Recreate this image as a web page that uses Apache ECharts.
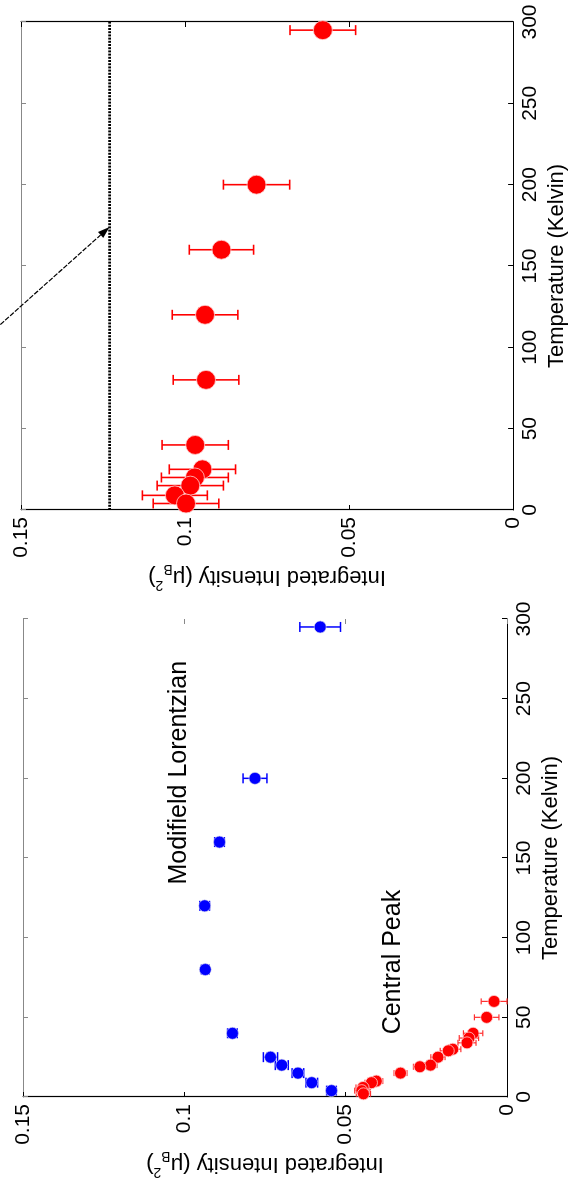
<!DOCTYPE html>
<html><head><meta charset="utf-8">
<script src="https://cdn.jsdelivr.net/npm/echarts@6/dist/echarts.min.js"></script>
<style>
html,body{margin:0;padding:0;background:#fff;overflow:hidden;width:573px;height:1194px;}
#chart{position:absolute;left:0;top:0;width:1194px;height:573px;transform-origin:0 0;transform:translate(0,1194px) rotate(-90deg);}
</style></head><body><div id="chart"></div>
<script>
// ---- Left panel (lower on page): fitted components ----
const tempML = [295, 200, 160, 120, 80, 40, 25, 20, 15, 9, 4];
const intML  = [0.0579, 0.0781, 0.0891, 0.0937, 0.0935, 0.0851, 0.0733, 0.0698, 0.0648, 0.0605, 0.0544];
const errML  = [0.0063, 0.0037, 0.0015, 0.0015, 0.0012, 0.0015, 0.0022, 0.0020, 0.0018, 0.0018, 0.0015];
const tempCP = [60, 50, 40, 37, 34, 30, 29, 25, 20, 19, 15, 10, 9, 6, 4, 2];
const intCP  = [0.0040, 0.0063, 0.0105, 0.0118, 0.0124, 0.0168, 0.0182, 0.0214, 0.0237, 0.0270, 0.0330, 0.0405, 0.0420, 0.0446, 0.0450, 0.0445];
const errCP  = [0.0040, 0.0038, 0.0030, 0.0030, 0.0028, 0.0025, 0.0025, 0.0022, 0.0020, 0.0020, 0.0020, 0.0020, 0.0020, 0.0022, 0.0022, 0.0022];
// ---- Right panel (upper on page): total intensity ----
const tempTot = [295, 200, 160, 120, 80, 40, 25, 20, 15, 9, 4];
const intTot  = [0.0580, 0.0782, 0.0889, 0.0939, 0.0936, 0.0969, 0.0947, 0.0970, 0.0984, 0.1031, 0.0997];
const errTot  = [0.0100, 0.0101, 0.0098, 0.0100, 0.0100, 0.0101, 0.0101, 0.0102, 0.0101, 0.0099, 0.0100];
const refLevel = 0.123;
// annotations
const labelML = {text: 'Modifield Lorentzian', at: [133, 0.1016]};
const labelCP = {text: 'Central Peak', at: [39, 0.0353]};
const arrowFrom = [114, 0.1563];
const arrowTo = [174, refLevel];
// axes
const tempRange = [0, 300, 50];
const intRange = [0, 0.15, 0.05];
const xTitle = 'Temperature (Kelvin)';
const yTitle = '{t|Integrated Intensity (μ}{s|B}{p|2}{t|)}';

const FONT = "'Liberation Sans', Arial, Helvetica, sans-serif";
const chart = echarts.init(document.getElementById('chart'), null, {renderer: 'canvas'});

function xAx(grid, pos, lineColor, showLine) {
  const main = pos === 'bottom';
  return {
    type: 'value', gridIndex: grid, position: pos, min: tempRange[0], max: tempRange[1], interval: tempRange[2],
    axisLine: {show: showLine, onZero: false, lineStyle: {color: lineColor, width: 1.2}},
    axisTick: {show: true, inside: true, length: 5, lineStyle: {color: main ? '#000' : lineColor, width: 1}},
    axisLabel: {show: main, margin: 7, fontSize: 21, color: '#000', fontFamily: FONT},
    splitLine: {show: false},
    name: main ? xTitle : '', nameLocation: 'middle', nameGap: 31,
    nameTextStyle: {fontSize: 22, color: '#000', fontFamily: FONT}
  };
}
function yAx(grid, pos, lineColor, showLine, tickColor) {
  const main = pos === 'left';
  return {
    type: 'value', gridIndex: grid, position: pos, min: intRange[0], max: intRange[1], interval: intRange[2],
    axisLine: {show: showLine, onZero: false, lineStyle: {color: lineColor, width: 1.2}},
    axisTick: {show: true, inside: true, length: 5, lineStyle: {color: tickColor, width: 1}},
    axisLabel: {show: main, margin: 7, fontSize: 21, color: '#000', fontFamily: FONT},
    splitLine: {show: false},
    name: main ? yTitle : '', nameLocation: 'middle', nameGap: 47,
    nameTextStyle: {color: '#000', fontFamily: FONT, rich: {
      t: {fontSize: 22, fontFamily: FONT, color: '#000', lineHeight: 30},
      s: {fontSize: 14, fontFamily: FONT, color: '#000', verticalAlign: 'bottom', lineHeight: 14},
      p: {fontSize: 14, fontFamily: FONT, color: '#000', verticalAlign: 'top', lineHeight: 14}
    }}
  };
}
function errSeries(xi, yi, temps, vals, errs, color, capHalf, lw) {
  return {
    type: 'custom', xAxisIndex: xi, yAxisIndex: yi, silent: true, z: 2, clip: false,
    data: temps.map((t, i) => [t, vals[i] - errs[i], vals[i] + errs[i]]),
    encode: {x: 0, y: [1, 2]},
    renderItem(params, api) {
      const lo = api.coord([api.value(0), api.value(1)]);
      const hi = api.coord([api.value(0), api.value(2)]);
      const st = {stroke: color, lineWidth: lw};
      return {type: 'group', children: [
        {type: 'line', shape: {x1: lo[0], y1: lo[1], x2: hi[0], y2: hi[1]}, style: st},
        {type: 'line', shape: {x1: lo[0] - capHalf, y1: lo[1], x2: lo[0] + capHalf, y2: lo[1]}, style: st},
        {type: 'line', shape: {x1: hi[0] - capHalf, y1: hi[1], x2: hi[0] + capHalf, y2: hi[1]}, style: st}
      ]};
    }
  };
}
function textSeries(xi, yi, lab) {
  return {
    type: 'scatter', xAxisIndex: xi, yAxisIndex: yi, symbolSize: 1, silent: true, z: 5,
    itemStyle: {color: 'rgba(0,0,0,0)', opacity: 1}, data: [lab.at],
    label: {show: true, position: 'right', distance: 0, formatter: lab.text, opacity: 1,
      fontSize: 25, color: '#000', fontFamily: FONT}
  };
}

chart.setOption({
  animation: false,
  backgroundColor: '#fff',
  grid: [
    {left: 97, top: 23, width: 478, height: 484},
    {left: 684, top: 21, width: 488, height: 497}
  ],
  xAxis: [
    xAx(0, 'bottom', '#000', true),
    xAx(0, 'top', '#888', true),
    xAx(1, 'bottom', '#000', true),
    xAx(1, 'top', '#888', true)
  ],
  yAxis: [
    yAx(0, 'left', '#000', true, '#000'),
    yAx(0, 'right', '#000', false, '#888'),
    yAx(1, 'left', '#000', true, '#000'),
    yAx(1, 'right', '#000', true, '#000')
  ],
  series: [
    errSeries(0, 0, tempML, intML, errML, '#0000ff', 5, 1.5),
    {type: 'scatter', xAxisIndex: 0, yAxisIndex: 0, symbol: 'circle', symbolSize: 12, z: 3,
      itemStyle: {color: '#0000ff', opacity: 1, borderColor: '#dde', borderWidth: 0.6},
      data: tempML.map((t, i) => [t, intML[i]])},
    errSeries(0, 0, tempCP, intCP, errCP, '#ff3030', 3, 1.2),
    {type: 'scatter', xAxisIndex: 0, yAxisIndex: 0, symbol: 'circle', symbolSize: 12, z: 3,
      itemStyle: {color: '#ff0000', opacity: 1, borderColor: '#ffd0d0', borderWidth: 0.8},
      data: tempCP.map((t, i) => [t, intCP[i]])},
    textSeries(0, 0, labelML),
    textSeries(0, 0, labelCP),
    {type: 'line', xAxisIndex: 2, yAxisIndex: 2, silent: true, symbol: 'none', z: 1,
      lineStyle: {color: '#000', type: [2, 1.2], width: 2.6},
      data: [[tempRange[0], refLevel], [tempRange[1], refLevel]]},
    errSeries(2, 2, tempTot, intTot, errTot, '#ff0000', 5, 1.6),
    {type: 'scatter', xAxisIndex: 2, yAxisIndex: 2, symbol: 'circle', symbolSize: 19, z: 3,
      itemStyle: {color: '#ff0000', opacity: 1, borderColor: '#ffd0d0', borderWidth: 0.8},
      data: tempTot.map((t, i) => [t, intTot[i]])}
  ]
});

// arrow annotation pointing to the reference level
const p0 = chart.convertToPixel({xAxisIndex: 2, yAxisIndex: 2}, arrowFrom);
const p1 = chart.convertToPixel({xAxisIndex: 2, yAxisIndex: 2}, arrowTo);
const dx = p1[0] - p0[0], dy = p1[1] - p0[1];
const L = Math.sqrt(dx * dx + dy * dy);
const ux = dx / L, uy = dy / L;
const hl = 12, hw = 4;
const bx = p1[0] - ux * hl, by = p1[1] - uy * hl;
chart.setOption({
  graphic: [
    {type: 'line', silent: true, z: 10,
      shape: {x1: p0[0], y1: p0[1], x2: bx, y2: by},
      style: {stroke: '#000', lineWidth: 1.2, lineDash: [5, 1.5]}},
    {type: 'polygon', silent: true, z: 10,
      shape: {points: [[p1[0], p1[1]], [bx - uy * hw, by + ux * hw], [bx + uy * hw, by - ux * hw]]},
      style: {fill: '#000'}}
  ]
});
</script></body></html>
